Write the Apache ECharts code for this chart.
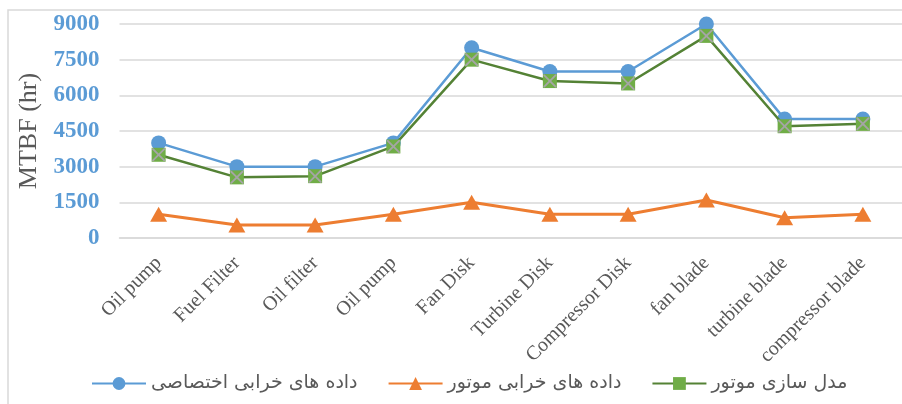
<!DOCTYPE html>
<html>
<head>
<meta charset="utf-8">
<script src="https://cdn.jsdelivr.net/npm/echarts@6/dist/echarts.min.js"></script>
<style>
  html, body { margin: 0; padding: 0; background: #fff; }
  #mtbf { width: 902px; height: 404px; }
</style>
</head>
<body>
<div id="mtbf"></div>
<script>
  // categories (x axis)
  var parts = ["Oil pump", "Fuel Filter", "Oil filter", "Oil pump", "Fan Disk",
    "Turbine Disk", "Compressor Disk", "fan blade", "turbine blade", "compressor blade"];
  var yTicks = [0, 1500, 3000, 4500, 6000, 7500, 9000];
  // series values
  var specialData = [4000, 3000, 3000, 4000, 8000, 7000, 7000, 9000, 5000, 5000];
  var engineFailData = [1000, 550, 550, 1000, 1500, 1000, 1000, 1600, 850, 1000];
  var engineModel = [3500, 2550, 2600, 3850, 7500, 6600, 6500, 8500, 4700, 4800];

  var names = ["داده های خرابی اختصاصی", "داده های خرابی موتور", "مدل سازی موتور"];
  var crossPath = "path://M0,0 L2,0 L10,8 L18,0 L20,0 L20,2 L12,10 L20,18 L20,20 L18,20 L10,12 L2,20 L0,20 L0,18 L8,10 L0,2 Z";

  var chart = echarts.init(document.getElementById("mtbf"));
  chart.setOption({
    animation: false,
    graphic: [{
      type: "rect",
      shape: { x: 8, y: 10, width: 1000, height: 600 },
      style: { fill: "none", stroke: "#D9D9D9", lineWidth: 1.5 },
      silent: true
    }],
    grid: { left: 119.5, right: -12, top: 24, bottom: 166 },
    legend: {
      data: names,
      left: 86,
      top: 369,
      itemWidth: 54,
      itemHeight: 16,
      itemGap: 30,
      selectedMode: false,
      textStyle: { fontFamily: "DejaVu Sans", fontSize: 19, color: "#595959" }
    },
    xAxis: {
      type: "category",
      boundaryGap: true,
      data: parts,
      axisLine: { lineStyle: { color: "#D9D9D9", width: 1.5 } },
      axisTick: { show: false },
      axisLabel: {
        interval: 0,
        rotate: 45,
        margin: 22,
        fontFamily: "Liberation Serif",
        fontSize: 20,
        color: "#595959"
      }
    },
    yAxis: {
      type: "value",
      min: yTicks[0],
      max: yTicks[yTicks.length - 1],
      interval: 1500,
      name: "MTBF (hr)",
      nameLocation: "middle",
      nameGap: 72,
      nameTextStyle: { fontFamily: "Liberation Serif", fontSize: 26, color: "#595959" },
      axisLine: { show: false },
      axisTick: { show: false },
      splitLine: { lineStyle: { color: "#D9D9D9", width: 1.5 } },
      axisLabel: {
        margin: 20,
        formatter: function (v) { return String(v); },
        fontFamily: "Liberation Serif",
        fontWeight: "bold",
        fontSize: 23,
        color: "#5B9BD5"
      }
    },
    series: [
      {
        name: names[0],
        type: "line",
        data: specialData,
        symbol: "circle",
        symbolSize: 15,
        itemStyle: { color: "#5B9BD5" },
        lineStyle: { color: "#5B9BD5", width: 2.5 },
        z: 2
      },
      {
        name: names[1],
        type: "line",
        data: engineFailData,
        symbol: "triangle",
        symbolSize: [17, 15],
        itemStyle: { color: "#ED7D31" },
        lineStyle: { color: "#ED7D31", width: 3 },
        z: 2
      },
      {
        name: names[2],
        type: "line",
        data: engineModel,
        symbol: "rect",
        symbolSize: 14,
        itemStyle: { color: "#70AD47" },
        lineStyle: { color: "#548235", width: 2.5 },
        z: 3
      },
      {
        name: "cross",
        type: "line",
        data: engineModel,
        symbol: crossPath,
        symbolSize: 13,
        itemStyle: { color: "#A5A5A5" },
        lineStyle: { opacity: 0 },
        silent: true,
        z: 4
      }
    ]
  });
</script>
</body>
</html>
